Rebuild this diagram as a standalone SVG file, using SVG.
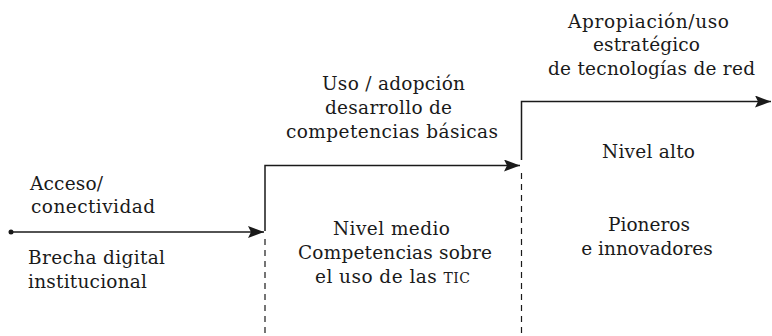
<svg xmlns="http://www.w3.org/2000/svg" width="772" height="336" viewBox="0 0 772 336">
<defs>
<style>
.t{font-family:"DejaVu Serif",serif;font-size:18.5px;fill:#1a1a1a;}
.m{text-anchor:middle;}
.ln{fill:none;stroke:#1a1a1a;stroke-width:1.5;}
.dash{fill:none;stroke:#1a1a1a;stroke-width:1.2;stroke-dasharray:6,5;}
</style>
<marker id="ah" viewBox="0 0 16 12" refX="16" refY="6" markerWidth="16" markerHeight="12" markerUnits="userSpaceOnUse" orient="auto">
<path d="M0,0 L16,6 L0,12 L3,6 Z" fill="#1a1a1a"/>
</marker>
</defs>
<rect width="772" height="336" fill="#ffffff"/>
<g id="connectors">
<circle cx="11" cy="232" r="2.5" fill="#1a1a1a"/>
<path class="ln" d="M11,232 H264" marker-end="url(#ah)"/>
<path class="ln" d="M265,231 V165.5 H520" marker-end="url(#ah)"/>
<path class="ln" d="M521.5,160 V101.5 H771" marker-end="url(#ah)"/>
<path class="dash" d="M265,239 V336"/>
<path class="dash" d="M521.5,173 V336"/>
</g>
<g id="nivel-bajo">
<text class="t" x="30" y="190" textLength="73">Acceso/</text>
<text class="t" x="31" y="213" textLength="124">conectividad</text>
<text class="t" x="28" y="264" textLength="137">Brecha digital</text>
<text class="t" x="28" y="288" textLength="119">institucional</text>
</g>
<g id="nivel-medio">
<text class="t" x="322" y="90" textLength="143">Uso / adopción</text>
<text class="t" x="325" y="114" textLength="127">desarrollo de</text>
<text class="t" x="286" y="138" textLength="212">competencias básicas</text>
<text class="t" x="333" y="235" textLength="117">Nivel medio</text>
<text class="t" x="298" y="259" textLength="194">Competencias sobre</text>
<text class="t" x="315" y="283" textLength="155">el uso de las <tspan font-size="14">TIC</tspan></text>
</g>
<g id="nivel-alto">
<text class="t" x="568" y="28" textLength="161">Apropiación/uso</text>
<text class="t" x="593" y="51" textLength="107">estratégico</text>
<text class="t" x="548" y="75" textLength="207">de tecnologías de red</text>
<text class="t" x="602" y="158" textLength="93">Nivel alto</text>
<text class="t m" x="649" y="231">Pioneros</text>
<text class="t m" x="647" y="255">e innovadores</text>
</g>
</svg>
